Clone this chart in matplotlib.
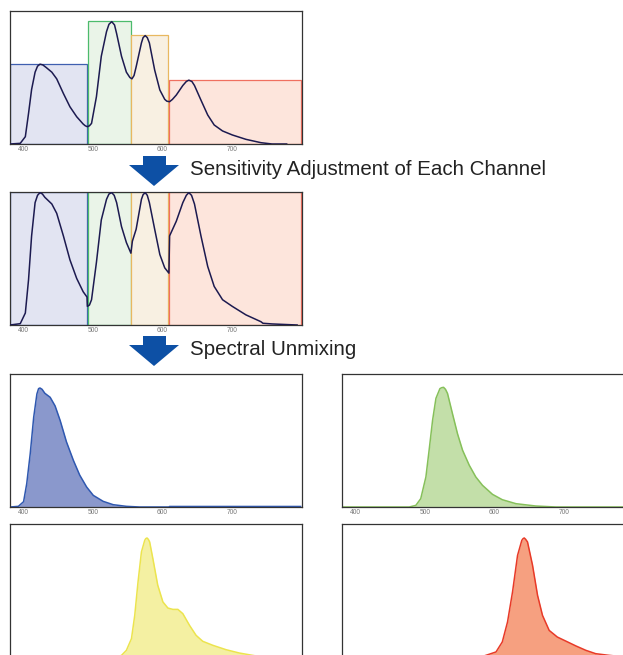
import matplotlib
matplotlib.use('Agg')
import matplotlib.pyplot as plt
from matplotlib.patches import Polygon

plt.rcParams['font.family'] = ['Liberation Sans', 'DejaVu Sans']

# detection channels (nm) and their raw sensitivity (panel 1 box heights)
CHANNEL_EDGES = [(381, 492), (493, 554), (555, 608), (609, 798)]
CHANNEL_RAW = [0.60, 0.925, 0.82, 0.48]
CHANNEL_FILL = ['#e2e4f2', '#eaf4e8', '#f8f0e2', '#fde5dc']
CHANNEL_EDGE = ['#3f5fb0', '#4cbb6c', '#e8b860', '#f07060']

# measured mixed spectrum
RAW_NM = [381, 395.7, 403, 407.6, 412, 417, 420.5, 424, 428, 433, 441, 448,
          457.6, 467, 476.7, 486, 489, 492, 495, 498, 505, 512, 519.5, 523,
          527, 531, 534, 541, 548, 553, 556, 559, 562, 569.6, 572, 575, 578,
          581, 588.6, 596, 603, 606, 610, 614, 619.6, 629, 634, 637.6, 642,
          645.7, 655, 664.7, 674, 686, 700, 719.6, 741, 757, 778]
RAW_VAL = [0, 0.005, 0.055, 0.23, 0.41, 0.54, 0.585, 0.60, 0.595, 0.575,
           0.54, 0.49, 0.38, 0.28, 0.205, 0.15, 0.137, 0.13, 0.137, 0.155,
           0.355, 0.66, 0.845, 0.90, 0.92, 0.895, 0.83, 0.66, 0.54, 0.50,
           0.49, 0.515, 0.58, 0.76, 0.80, 0.815, 0.80, 0.76, 0.556, 0.406,
           0.336, 0.322, 0.318, 0.335, 0.368, 0.44, 0.47, 0.48, 0.47, 0.44,
           0.33, 0.218, 0.143, 0.098, 0.068, 0.035, 0.01, 0.0, 0.0]

# spectrum after per-channel sensitivity adjustment
ADJ_NM = [381, 395.7, 403, 407.6, 412, 417, 420.5, 424, 427.5, 431, 441,
          448, 457.6, 467, 476.7, 486, 491.5, 492, 495, 498, 505, 512, 519.5,
          523, 527, 530.5, 534, 541, 548, 554.5, 556.6, 562, 569.6, 572, 575,
          578, 581, 588.6, 596, 603, 609, 610, 619.6, 629, 634, 637.6, 641.5,
          645.7, 655, 664.7, 674, 686, 700, 719.6, 741, 744, 757, 793]
ADJ_VAL = [0, 0.01, 0.09, 0.34, 0.67, 0.92, 0.975, 0.995, 0.985, 0.96, 0.91,
           0.84, 0.67, 0.49, 0.35, 0.25, 0.21, 0.14, 0.15, 0.19, 0.47, 0.79,
           0.945, 0.985, 0.995, 0.975, 0.92, 0.74, 0.62, 0.54, 0.63, 0.72,
           0.945, 0.98, 0.995, 0.975, 0.92, 0.72, 0.53, 0.43, 0.39, 0.67,
           0.78, 0.92, 0.975, 0.995, 0.975, 0.91, 0.67, 0.44, 0.29, 0.19,
           0.14, 0.076, 0.025, 0.013, 0.008, 0.0]

# unmixed dye spectra
BLUE_NM = [381, 393, 400.5, 405, 410, 415, 419.6, 422, 424, 427, 431, 438.6,
           445.7, 453, 462, 472, 481, 491, 500.5, 514.7, 529, 548, 567, 609,
           610, 798]
BLUE_VAL = [0, 0.005, 0.04, 0.175, 0.40, 0.675, 0.85, 0.89, 0.895, 0.885,
            0.855, 0.825, 0.76, 0.65, 0.49, 0.35, 0.24, 0.15, 0.0875, 0.0425,
            0.0175, 0.005, 0, 0, 0.004, 0.004]

GREEN_NM = [381, 477.5, 487, 494, 501.4, 506, 511, 515.8, 521.5, 524, 526.7,
            529.5, 532.4, 539.6, 546.8, 554, 563.6, 573, 582.6, 597, 611,
            630.6, 659, 688, 800]
GREEN_VAL = [0, 0, 0.0125, 0.063, 0.226, 0.427, 0.653, 0.817, 0.89, 0.897,
             0.90, 0.885, 0.854, 0.70, 0.55, 0.427, 0.314, 0.226, 0.163,
             0.095, 0.055, 0.025, 0.0075, 0, 0]

YELLOW_NM = [381, 535, 541, 548, 555.3, 560, 564.7, 569.6, 574.3, 575.8,
             577.6, 579.5, 581.4, 586, 593, 600.4, 607.6, 614.7, 621.9, 629,
             638.6, 648, 657.6, 672, 691, 710, 729, 743, 798]
YELLOW_VAL = [0, 0, 0.0125, 0.05, 0.138, 0.313, 0.564, 0.79, 0.877, 0.89,
              0.895, 0.885, 0.865, 0.74, 0.54, 0.414, 0.368, 0.358, 0.358,
              0.326, 0.238, 0.163, 0.118, 0.088, 0.055, 0.03, 0.0125, 0, 0]

RED_NM = [381, 580, 587.5, 602, 611, 618.5, 625.7, 632.9, 639, 640.8, 642.5,
          644.5, 647.2, 654.4, 661.6, 668.7, 678.3, 690, 702, 716.7, 731,
          745, 764, 778.8, 800]
RED_VAL = [0, 0, 0.0125, 0.038, 0.113, 0.263, 0.489, 0.764, 0.877, 0.89,
           0.895, 0.885, 0.865, 0.69, 0.464, 0.313, 0.2, 0.15, 0.12, 0.083,
           0.05, 0.025, 0.0125, 0.005, 0]

TICKS = [400, 500, 600, 700]
STEP1_LABEL = "Sensitivity Adjustment of Each Channel"
STEP2_LABEL = "Spectral Unmixing"

FIG_W, FIG_H = 623, 655
CURVE_COLOR = '#1c1a50'
ARROW_COLOR = '#0d50a5'


def add_panel(fig, x0, y0, w=292, h=133, ticks=True):
    # pixel box -> figure fraction
    ax = fig.add_axes([x0 / FIG_W, 1 - (y0 + h) / FIG_H, w / FIG_W, h / FIG_H])
    ax.set_xlim(381, 800)
    ax.set_ylim(0, 1)
    ax.set_yticks([])
    if ticks:
        ax.set_xticks(TICKS)
        ax.set_xticklabels([str(t) for t in TICKS])
        ax.tick_params(axis='x', length=0, pad=1.5, labelsize=4.8,
                       labelcolor='#777777')
    else:
        ax.set_xticks([])
    for sp in ax.spines.values():
        sp.set_color('#333333')
        sp.set_linewidth(0.9)
    return ax


def draw_channels(ax, heights):
    for (lo, hi), hgt, fc, ec in zip(CHANNEL_EDGES, heights, CHANNEL_FILL, CHANNEL_EDGE):
        ax.bar(lo, hgt, width=hi - lo, align='edge', color=fc,
               edgecolor=ec, linewidth=0.9, zorder=1)


def draw_dye(ax, nm, val, fill, edge):
    ax.fill_between(nm, val, 0, color=fill, linewidth=0, zorder=1)
    ax.plot(nm, val, color=edge, linewidth=1.1, zorder=2)


def arrow(ax, top, base, tip, label):
    shaft = [(143, top), (166, top), (166, base), (179, base),
             (154, tip), (129, base), (143, base)]
    ax.add_patch(Polygon(shaft, closed=True, color=ARROW_COLOR, linewidth=0))
    ax.text(190, (base + tip) / 2 - 6, label, fontsize=14.8, color='#222222',
            va='center', ha='left')


fig = plt.figure(figsize=(FIG_W / 100, FIG_H / 100), dpi=100)

ax1 = add_panel(fig, 10, 11)
draw_channels(ax1, CHANNEL_RAW)
ax1.plot(RAW_NM, RAW_VAL, color=CURVE_COLOR, linewidth=1.1, zorder=3)

ax2 = add_panel(fig, 10, 192)
draw_channels(ax2, [1.0] * len(CHANNEL_EDGES))
ax2.plot(ADJ_NM, ADJ_VAL, color=CURVE_COLOR, linewidth=1.1, zorder=3)

ax3 = add_panel(fig, 10, 374)
draw_dye(ax3, BLUE_NM, BLUE_VAL, '#8a98cc', '#2f58b0')

ax4 = add_panel(fig, 342, 374)
draw_dye(ax4, GREEN_NM, GREEN_VAL, '#c3dfa9', '#86c05a')

# bottom row runs off the lower edge, so its tick labels are not shown
ax5 = add_panel(fig, 10, 524, ticks=False)
draw_dye(ax5, YELLOW_NM, YELLOW_VAL, '#f4f0a2', '#ece44e')

ax6 = add_panel(fig, 342, 524, ticks=False)
draw_dye(ax6, RED_NM, RED_VAL, '#f6a080', '#e83a28')

# overlay in pixel coordinates for arrows and step labels
over = fig.add_axes([0, 0, 1, 1], zorder=10)
over.set_xlim(0, FIG_W)
over.set_ylim(FIG_H, 0)
over.axis('off')
arrow(over, 156, 165, 186, STEP1_LABEL)
arrow(over, 336, 345, 366, STEP2_LABEL)

fig.savefig('out.png', dpi=100)
plt.close(fig)
